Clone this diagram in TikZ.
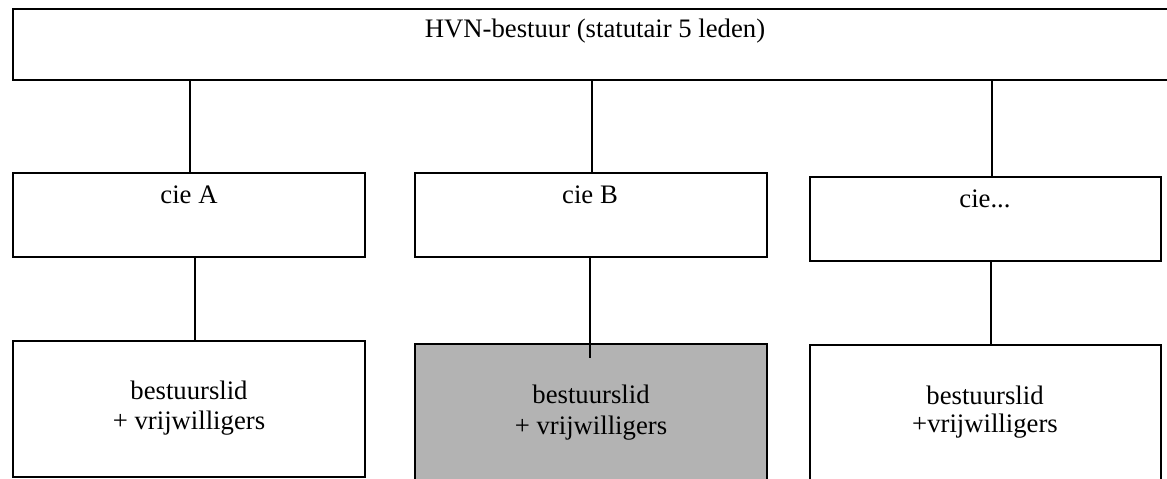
\documentclass[tikz,border=0pt]{standalone}
\usepackage{fontspec}
\setmainfont{Liberation Serif}

\definecolor{lidgray}{RGB}{179,179,179}

\tikzset{
  orgbox/.style={draw, line width=2.8pt, inner sep=0pt},
  orgline/.style={line width=2.8pt},
  orgtext/.style={anchor=base, inner sep=0pt, font=\fontsize{26.7}{31}\selectfont},
}

\begin{document}
\begin{tikzpicture}[x=1pt,y=-1pt]
  \useasboundingbox (0,0) rectangle (1167,479);
  \clip (0,0) rectangle (1167,479);

  % Box HVN-bestuur
  \node [orgbox, minimum width=1180pt, minimum height=71pt] (bestuur) at (603,44.5) {};
  \node [orgtext] (bestuurtxt) at (595,37) {HVN-bestuur (statutair 5 leden)};

  % Boxes of the committees
  \node [orgbox, minimum width=352pt, minimum height=84pt] (cieA) at (189,215) {};
  \node [orgtext] (cieAtxt) at (189,203) {cie A};

  \node [orgbox, minimum width=352pt, minimum height=84pt] (cieB) at (591,215) {};
  \node [orgtext] (cieBtxt) at (590,203) {cie B};

  \node [orgbox, minimum width=351pt, minimum height=84pt] (cieC) at (985.5,219) {};
  \node [orgtext] (cieCtxt) at (985,207) {cie...};

  % Boxes bestuurslid + vrijwilligers
  \node [orgbox, minimum width=352pt, minimum height=136pt] (lidA) at (189,409) {};
  \node [orgtext] (lidAtxt) at (189,399) {bestuurslid};
  \node [orgtext] (lidAtxtb) at (189,429) {+ vrijwilligers};

  \node [orgbox, fill=lidgray, minimum width=352pt, minimum height=150pt] (lidB) at (591,419) {};
  \node [orgtext] (lidBtxt) at (591,403) {bestuurslid};
  \node [orgtext] (lidBtxtb) at (591,434) {+ vrijwilligers};

  \node [orgbox, minimum width=351pt, minimum height=150pt] (lidC) at (985.5,420) {};
  \node [orgtext] (lidCtxt) at (985,404) {bestuurslid};
  \node [orgtext] (lidCtxtb) at (985,432) {+vrijwilligers};

  % Lines from HVN-bestuur to the committees
  \coordinate (cieAin) at ([xshift=1pt]cieA.north);
  \coordinate (cieBin) at ([xshift=1pt]cieB.north);
  \coordinate (cieCin) at ([xshift=6.5pt]cieC.north);
  \draw [orgline] (cieAin) -- (cieAin |- bestuur.south);
  \draw [orgline] (cieBin) -- (cieBin |- bestuur.south);
  \draw [orgline] (cieCin) -- (cieCin |- bestuur.south);

  % Lines from the committees down to the members
  \coordinate (cieAout) at ([xshift=6pt]cieA.south);
  \coordinate (cieBout) at ([xshift=-1pt]cieB.south);
  \coordinate (cieCout) at ([xshift=5.5pt]cieC.south);
  \coordinate (lidBend) at ([yshift=-15pt]cieBout |- lidB.north);
  \draw [orgline] (cieAout) -- (cieAout |- lidA.north);
  \draw [orgline] (cieBout) -- (lidBend);
  \draw [orgline] (cieCout) -- (cieCout |- lidC.north);
\end{tikzpicture}
\end{document}
